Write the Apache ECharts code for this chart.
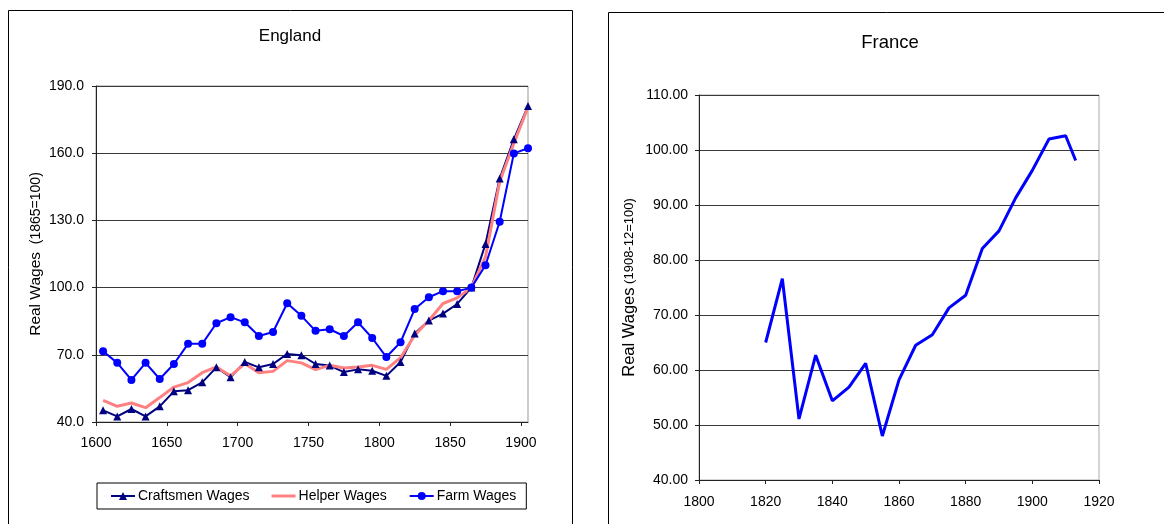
<!DOCTYPE html>
<html>
<head>
<meta charset="utf-8">
<title>Real Wages - England and France</title>
<script src="https://cdn.jsdelivr.net/npm/echarts@6/dist/echarts.min.js"></script>
<style>
  html, body { margin: 0; padding: 0; background: #fff; }
  #chart { width: 1164px; height: 524px; }
</style>
</head>
<body>
<div id="chart"></div>
<script>
// England, decade mid-points
const engYears = [1605, 1615, 1625, 1635, 1645, 1655, 1665, 1675, 1685, 1695,
  1705, 1715, 1725, 1735, 1745, 1755, 1765, 1775, 1785, 1795,
  1805, 1815, 1825, 1835, 1845, 1855, 1865, 1875, 1885, 1895, 1905]
const craftsmenWages = [45.2, 42.5, 45.8, 42.5, 47.0, 53.7, 54.2, 57.7, 64.4, 60.0,
  66.8, 64.4, 65.9, 70.4, 69.8, 65.9, 65.2, 62.3, 63.5, 62.9,
  60.6, 66.8, 79.5, 85.3, 88.4, 92.7, 100.0, 119.5, 148.7, 166.2, 181.1]
const helperWages = [49.7, 47.0, 48.5, 46.4, 50.9, 55.6, 57.6, 62.0, 64.6, 60.6,
  66.1, 62.0, 62.6, 67.4, 66.4, 63.4, 65.3, 64.1, 64.6, 65.3,
  63.5, 68.7, 78.7, 85.3, 92.9, 95.4, 100.0, 113.7, 147.3, 164.4, 180.5]
const farmWages = [71.6, 66.4, 58.8, 66.4, 59.2, 65.9, 74.9, 74.9, 84.1, 86.8,
  84.5, 78.4, 80.2, 93.0, 87.4, 80.7, 81.4, 78.4, 84.5, 77.5,
  69.0, 75.6, 90.4, 95.7, 98.4, 98.4, 100.0, 110.0, 129.4, 159.9, 162.2]

// France
const franceYears = [1820, 1825, 1830, 1835, 1840, 1845, 1850, 1855, 1860, 1865,
  1870, 1875, 1880, 1885, 1890, 1895, 1900, 1905, 1910, 1913]
const franceWages = [65.0, 76.6, 51.1, 62.7, 54.4, 56.9, 61.2, 48.0, 58.2, 64.5,
  66.4, 71.3, 73.6, 82.1, 85.3, 91.3, 96.3, 102.0, 102.6, 98.1]

const engXTicks = [1600, 1650, 1700, 1750, 1800, 1850, 1900]

function pairs(xs, ys) {
  return xs.map((x, i) => [x, ys[i]])
}

const FONT = 'Liberation Sans, Arial, sans-serif'
const gridLine = {show: true, lineStyle: {color: '#3a3a3a', width: 1}}
const yearLabel = (v) => String(v) // no thousands separator

let myChart = echarts.init(document.getElementById('chart'), null, {renderer: 'canvas'})

myChart.setOption({
  backgroundColor: '#fff',
  textStyle: {fontFamily: FONT, color: '#000'},
  animation: false,
  title: [
    {text: 'England', left: 290, top: 28, textAlign: 'center', padding: 0,
      textStyle: {fontFamily: FONT, fontSize: 17, fontWeight: 'normal', color: '#000'}},
    {text: 'France', left: 890, top: 33, textAlign: 'center', padding: 0,
      textStyle: {fontFamily: FONT, fontSize: 18.5, fontWeight: 'normal', color: '#000'}}
  ],
  // panel frames
  graphic: [
    {type: 'rect', shape: {x: 8.5, y: 10.5, width: 564, height: 540},
      style: {fill: null, stroke: '#000', lineWidth: 1}, silent: true},
    {type: 'rect', shape: {x: 608.5, y: 12.5, width: 600, height: 540},
      style: {fill: null, stroke: '#000', lineWidth: 1}, silent: true}
  ],
  legend: {
    left: 97,
    top: 483,
    padding: [6, 10, 6, 13],
    itemGap: 22,
    itemWidth: 24,
    itemHeight: 10,
    borderColor: '#000',
    borderWidth: 1,
    textStyle: {fontFamily: FONT, fontSize: 14, color: '#000', padding: [0, 0, 0, -2]},
    data: [
      'Craftsmen Wages',
      {name: 'Helper Wages', icon: 'path://M0,0 L24,0 L24,3 L0,3 Z'},
      'Farm Wages'
    ]
  },
  grid: [
    {left: 96, top: 86, width: 432, height: 336, show: true, borderColor: '#999', borderWidth: 1},
    {left: 699, top: 95, width: 400, height: 385, show: true, borderColor: '#aaa', borderWidth: 1}
  ],
  xAxis: [
    {
      gridIndex: 0,
      type: 'value',
      min: 1600,
      max: 1905,
      interval: 50,
      axisLine: {show: true, lineStyle: {color: '#222'}},
      axisTick: {show: true, length: 4, inside: false, customValues: engXTicks, lineStyle: {color: '#222'}},
      axisLabel: {customValues: engXTicks, margin: 14, fontSize: 14, color: '#000', fontFamily: FONT,
        formatter: yearLabel},
      splitLine: {show: false}
    },
    {
      gridIndex: 1,
      type: 'value',
      min: 1800,
      max: 1920,
      interval: 20,
      axisLine: {show: true, lineStyle: {color: '#222'}},
      axisTick: {show: true, length: 4, lineStyle: {color: '#222'}},
      axisLabel: {margin: 15, fontSize: 14, color: '#000', fontFamily: FONT, formatter: yearLabel},
      splitLine: {show: false}
    }
  ],
  yAxis: [
    {
      gridIndex: 0,
      type: 'value',
      min: 40,
      max: 190,
      interval: 30,
      name: '{a|Real Wages}{b|  (1865=100)}',
      nameLocation: 'middle',
      nameGap: 52,
      nameRotate: 90,
      nameTextStyle: {
        rich: {
          a: {fontSize: 15.5, fontFamily: FONT, color: '#000'},
          b: {fontSize: 14, fontFamily: FONT, color: '#000'}
        }
      },
      axisLine: {show: true, lineStyle: {color: '#222'}},
      axisTick: {show: true, length: 4, lineStyle: {color: '#222'}},
      axisLabel: {margin: 12, fontSize: 14, color: '#000', fontFamily: FONT,
        formatter: (v) => v.toFixed(1)},
      splitLine: gridLine
    },
    {
      gridIndex: 1,
      type: 'value',
      min: 40,
      max: 110,
      interval: 10,
      name: '{a|Real Wages}{b| (1908-12=100)}',
      nameLocation: 'middle',
      nameGap: 61,
      nameRotate: 90,
      nameTextStyle: {
        rich: {
          a: {fontSize: 16.5, fontFamily: FONT, color: '#000'},
          b: {fontSize: 13, fontFamily: FONT, color: '#000'}
        }
      },
      axisLine: {show: true, lineStyle: {color: '#222'}},
      axisTick: {show: true, length: 4, lineStyle: {color: '#222'}},
      axisLabel: {margin: 11, fontSize: 14, color: '#000', fontFamily: FONT,
        formatter: (v) => v.toFixed(2)},
      splitLine: gridLine
    }
  ],
  series: [
    {
      name: 'Craftsmen Wages',
      type: 'line',
      xAxisIndex: 0,
      yAxisIndex: 0,
      symbol: 'triangle',
      symbolSize: 8,
      itemStyle: {color: '#000080'},
      lineStyle: {color: '#000080', width: 2},
      data: pairs(engYears, craftsmenWages)
    },
    {
      name: 'Helper Wages',
      type: 'line',
      xAxisIndex: 0,
      yAxisIndex: 0,
      symbol: 'none',
      itemStyle: {color: '#ff8080'},
      lineStyle: {color: '#ff8080', width: 3},
      data: pairs(engYears, helperWages)
    },
    {
      name: 'Farm Wages',
      type: 'line',
      xAxisIndex: 0,
      yAxisIndex: 0,
      symbol: 'circle',
      symbolSize: 8,
      itemStyle: {color: '#0000ff'},
      lineStyle: {color: '#0000ff', width: 2},
      data: pairs(engYears, farmWages)
    },
    {
      name: 'France',
      type: 'line',
      xAxisIndex: 1,
      yAxisIndex: 1,
      symbol: 'none',
      lineStyle: {color: '#0000ff', width: 3},
      data: pairs(franceYears, franceWages)
    }
  ]
});
</script>
</body>
</html>
